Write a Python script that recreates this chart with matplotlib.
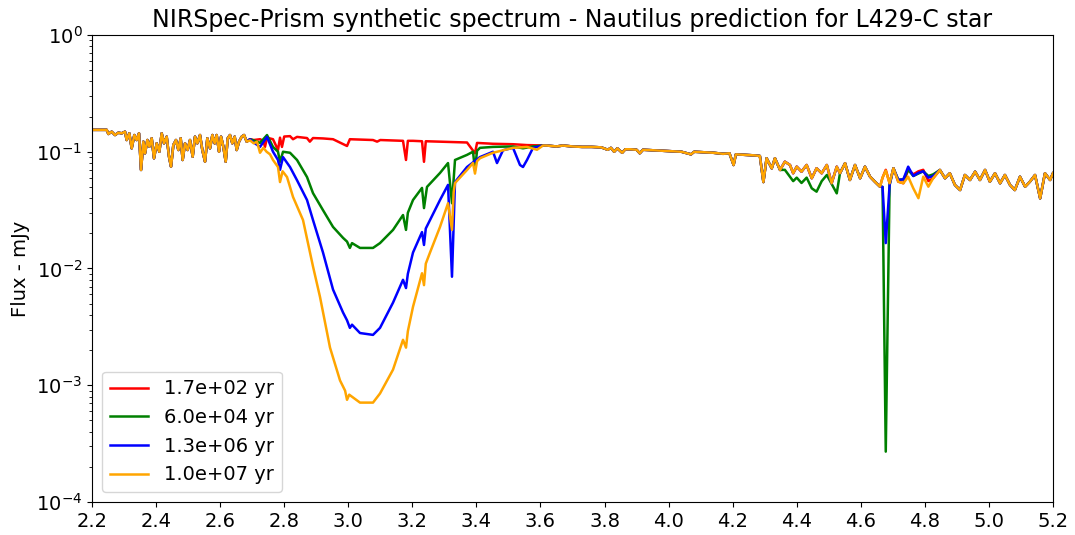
import numpy as np
import matplotlib
matplotlib.use("Agg")
import matplotlib.pyplot as plt

# wavelength (micron) / flux (mJy)

# 2.2 - 2.69 : identical for all four ages
wl_head = [2.200, 2.2458, 2.2510, 2.2614, 2.2718, 2.2822, 2.2926, 2.3030, 2.3082, 2.3165,
           2.3238, 2.3321, 2.3394, 2.3467, 2.3530, 2.3603, 2.3655, 2.3727, 2.3790, 2.3863,
           2.3935, 2.4019, 2.4102, 2.4175, 2.4248, 2.4331, 2.4404, 2.4466, 2.4539, 2.4622,
           2.4695, 2.4768, 2.4830, 2.4903, 2.4986, 2.5059, 2.5142, 2.5215, 2.5288, 2.5371,
           2.5444, 2.5528, 2.5600, 2.5684, 2.5757, 2.5830, 2.5892, 2.5965, 2.6028, 2.6100,
           2.6173, 2.6236, 2.6308, 2.6381, 2.6454, 2.6517, 2.6590, 2.6673, 2.6746, 2.6829]
flux_head = [0.154, 0.154, 0.142, 0.1485, 0.139, 0.1456, 0.1438, 0.1485, 0.126, 0.1438,
             0.107, 0.139, 0.126, 0.1438, 0.0698, 0.122, 0.097, 0.126, 0.1105, 0.1303,
             0.0879, 0.118, 0.100, 0.1438, 0.118, 0.1346, 0.0907, 0.0745, 0.1143, 0.126,
             0.1035, 0.1303, 0.085, 0.118, 0.1035, 0.126, 0.0907, 0.1346, 0.118, 0.139,
             0.1035, 0.0822, 0.1303, 0.107, 0.139, 0.118, 0.139, 0.100, 0.1346, 0.1105,
             0.0822, 0.1303, 0.139, 0.118, 0.1346, 0.1035, 0.122, 0.1346, 0.139, 0.122]

# 2.69 - 3.61 : ice band, one per age
wl_ice_1 = [2.6932, 2.7050, 2.7245, 2.7350, 2.7400, 2.7463, 2.7650, 2.7806, 2.7869, 2.7930,
            2.8000, 2.8181, 2.8275, 2.8400, 2.8712, 2.8800, 2.8900, 2.9211, 2.9524, 2.9961,
            3.0050, 3.0366, 3.0772, 3.0900, 3.1000, 3.1397, 3.1709, 3.1802, 3.1860, 3.2021,
            3.2302, 3.2364, 3.2420, 3.2864, 3.3238, 3.3707, 3.3956, 3.4020, 3.4518, 3.5143,
            3.5580, 3.6079]
flux_ice_1 = [0.128, 0.126, 0.128, 0.124, 0.110, 0.132, 0.128, 0.1035, 0.132, 0.110,
              0.135, 0.136, 0.128, 0.134, 0.131, 0.122, 0.131, 0.130, 0.128, 0.112,
              0.128, 0.127, 0.126, 0.122, 0.126, 0.125, 0.124, 0.085, 0.124, 0.124,
              0.123, 0.082, 0.123, 0.122, 0.121, 0.120, 0.097, 0.119, 0.117, 0.116,
              0.114, 0.113]

wl_ice_2 = [2.6932, 2.7050, 2.7245, 2.7463, 2.7650, 2.7806, 2.7869, 2.7963, 2.8181, 2.8400,
            2.8712, 2.8899, 2.9211, 2.9524, 2.9836, 2.9961, 3.0050, 3.0117, 3.0366, 3.0772,
            3.0991, 3.1397, 3.1709, 3.1802, 3.1860, 3.2021, 3.2302, 3.2364, 3.2458, 3.2864,
            3.3114, 3.3238, 3.3332, 3.3707, 3.3894, 3.3956, 3.4020, 3.4112, 3.4518, 3.5143,
            3.5455, 3.5767, 3.6079]
flux_ice_2 = [0.128, 0.125, 0.119, 0.139, 0.110, 0.100, 0.082, 0.100, 0.098, 0.085,
              0.0607, 0.0442, 0.0316, 0.0227, 0.0183, 0.0170, 0.0150, 0.0165, 0.0150, 0.0150,
              0.0165, 0.0214, 0.0287, 0.0214, 0.0300, 0.0386, 0.049, 0.0329, 0.050, 0.0658,
              0.080, 0.0362, 0.085, 0.094, 0.100, 0.0698, 0.102, 0.108, 0.110, 0.111,
              0.107, 0.111, 0.113]

wl_ice_3 = [2.6932, 2.7050, 2.7245, 2.7463, 2.7650, 2.7806, 2.7869, 2.7963, 2.8181, 2.8400,
            2.8712, 2.8899, 2.9211, 2.9524, 2.9836, 2.9961, 3.0050, 3.0117, 3.0366, 3.0772,
            3.0991, 3.1397, 3.1709, 3.1802, 3.1860, 3.2021, 3.2302, 3.2364, 3.2420, 3.2552,
            3.2864, 3.3114, 3.3238, 3.3332, 3.3707, 3.4112, 3.4518, 3.4643, 3.4831, 3.5143,
            3.5361, 3.5455, 3.5580, 3.5767, 3.6079]
flux_ice_3 = [0.128, 0.120, 0.110, 0.134, 0.100, 0.085, 0.070, 0.090, 0.074, 0.057,
              0.0386, 0.026, 0.0137, 0.0066, 0.0042, 0.0036, 0.0031, 0.0033, 0.0028, 0.0027,
              0.0031, 0.0051, 0.0080, 0.0068, 0.0090, 0.0137, 0.0205, 0.0159, 0.0220, 0.026,
              0.0386, 0.052, 0.0085, 0.055, 0.074, 0.090, 0.100, 0.080, 0.103, 0.108,
              0.077, 0.074, 0.085, 0.108, 0.113]

wl_ice_4 = [2.6932, 2.7050, 2.7150, 2.7245, 2.7350, 2.7450, 2.7557, 2.7650, 2.7806, 2.7869,
            2.7950, 2.8088, 2.8275, 2.8587, 2.8899, 2.9118, 2.9430, 2.9742, 2.9900, 2.9961,
            3.0030, 3.0366, 3.0772, 3.0991, 3.1397, 3.1709, 3.1802, 3.1860, 3.2021, 3.2302,
            3.2364, 3.2420, 3.2552, 3.2864, 3.3114, 3.3238, 3.3290, 3.3332, 3.3707, 3.3894,
            3.3956, 3.4020, 3.4112, 3.4518, 3.5143, 3.5580, 3.5892, 3.6079]
flux_ice_4 = [0.125, 0.118, 0.122, 0.098, 0.108, 0.100, 0.095, 0.085, 0.074, 0.055,
              0.068, 0.0607, 0.0410, 0.0260, 0.0104, 0.0057, 0.0021, 0.00110, 0.00090, 0.00075,
              0.00083, 0.00071, 0.00071, 0.00085, 0.00136, 0.00245, 0.0021, 0.0029, 0.0047, 0.0091,
              0.0072, 0.0110, 0.0137, 0.0227, 0.0362, 0.0214, 0.0450, 0.054, 0.0698, 0.080,
              0.065, 0.083, 0.088, 0.098, 0.108, 0.110, 0.104, 0.113]

# 3.62 - 4.34 : identical again
wl_mid = [3.62, 3.65, 3.67, 3.70, 3.73, 3.76, 3.79, 3.81, 3.82, 3.83,
          3.84, 3.855, 3.865, 3.88, 3.90, 3.91, 3.92, 3.95, 3.98, 4.01,
          4.04, 4.07, 4.08, 4.11, 4.14, 4.17, 4.19, 4.203, 4.21, 4.24,
          4.27, 4.285, 4.296, 4.306, 4.322, 4.332]
flux_mid = [0.113, 0.111, 0.113, 0.111, 0.110, 0.110, 0.109, 0.104, 0.108, 0.100,
            0.107, 0.098, 0.105, 0.105, 0.104, 0.097, 0.104, 0.103, 0.102, 0.101,
            0.100, 0.095, 0.100, 0.099, 0.098, 0.096, 0.097, 0.077, 0.095, 0.094,
            0.093, 0.092, 0.055, 0.088, 0.072, 0.088]

# 4.35 - 4.85 : CO band region
wl_co = [4.348, 4.363, 4.379, 4.389, 4.400, 4.415, 4.431, 4.447, 4.462, 4.478,
         4.494, 4.509, 4.525, 4.535, 4.551, 4.566, 4.582, 4.598, 4.613, 4.629,
         4.644, 4.660, 4.668, 4.678, 4.690, 4.702, 4.717, 4.733, 4.748, 4.764,
         4.780, 4.795, 4.811, 4.826, 4.847]
flux_co_1 = [0.0698, 0.0822, 0.0770, 0.0654, 0.0745, 0.0675, 0.0770, 0.0593, 0.0722, 0.0654,
             0.0770, 0.0537, 0.0745, 0.0654, 0.0798, 0.0573, 0.0770, 0.0593, 0.0745, 0.0611,
             0.0554, 0.0502, 0.0600, 0.0700, 0.0537, 0.0722, 0.0554, 0.0537, 0.0700, 0.0640,
             0.0680, 0.0700, 0.0560, 0.0593, 0.0698]
flux_co_2 = [0.0698, 0.0700, 0.0611, 0.0560, 0.0600, 0.0540, 0.0600, 0.0486, 0.0455, 0.0560,
             0.0632, 0.0530, 0.0440, 0.0654, 0.0798, 0.0573, 0.0770, 0.0593, 0.0745, 0.0611,
             0.0554, 0.0502, 0.0500, 0.00027, 0.0520, 0.0722, 0.0575, 0.0580, 0.0700, 0.0620,
             0.0650, 0.0680, 0.0620, 0.0640, 0.0698]
flux_co_3 = [0.0698, 0.0822, 0.0770, 0.0654, 0.0745, 0.0675, 0.0770, 0.0593, 0.0722, 0.0654,
             0.0770, 0.0537, 0.0745, 0.0654, 0.0798, 0.0573, 0.0770, 0.0593, 0.0745, 0.0611,
             0.0554, 0.0502, 0.0500, 0.0165, 0.0520, 0.0722, 0.0575, 0.0580, 0.0745, 0.0620,
             0.0660, 0.0680, 0.0600, 0.0620, 0.0698]
flux_co_4 = [0.0698, 0.0822, 0.0770, 0.0654, 0.0745, 0.0675, 0.0770, 0.0593, 0.0722, 0.0654,
             0.0770, 0.0537, 0.0745, 0.0654, 0.0798, 0.0573, 0.0770, 0.0593, 0.0745, 0.0611,
             0.0554, 0.0502, 0.0600, 0.0690, 0.0537, 0.0722, 0.0554, 0.0537, 0.0611, 0.0486,
             0.0400, 0.0611, 0.0502, 0.0593, 0.0698]

# 4.86 - 5.2 : identical
wl_tail = [4.863, 4.878, 4.894, 4.910, 4.925, 4.941, 4.957, 4.972, 4.988, 5.003,
           5.019, 5.035, 5.050, 5.066, 5.081, 5.097, 5.113, 5.128, 5.144, 5.160,
           5.175, 5.191, 5.200]
flux_tail = [0.0593, 0.0654, 0.0519, 0.0470, 0.0632, 0.0573, 0.0675, 0.0573, 0.0698, 0.0554,
             0.0654, 0.0537, 0.0632, 0.0519, 0.0470, 0.0611, 0.0502, 0.0554, 0.0632, 0.0399,
             0.0654, 0.0573, 0.0654]

ages = ["1.7e+02 yr", "6.0e+04 yr", "1.3e+06 yr", "1.0e+07 yr"]
colors = ["red", "green", "blue", "orange"]
wl_ice = [wl_ice_1, wl_ice_2, wl_ice_3, wl_ice_4]
flux_ice = [flux_ice_1, flux_ice_2, flux_ice_3, flux_ice_4]
flux_co = [flux_co_1, flux_co_2, flux_co_3, flux_co_4]

fig = plt.figure(figsize=(10.75, 5.35), dpi=100)
ax = fig.add_axes([0.0856, 0.0617, 0.8939, 0.8729])

for i in range(0, 4):
    wl = wl_head + wl_ice[i] + wl_mid + wl_co + wl_tail
    flux = flux_head + flux_ice[i] + flux_mid + flux_co[i] + flux_tail
    ax.plot(np.array(wl), np.array(flux), color=colors[i], lw=1.8, label=ages[i])

ax.set_yscale("log")
ax.set_xlim(2.2, 5.2)
ax.set_ylim(1e-4, 1)
ax.set_xticks(np.round(np.arange(2.2, 5.21, 0.2), 1))
ax.tick_params(labelsize=14)
ax.set_ylabel("Flux - mJy", fontsize=14)
ax.set_title("NIRSpec-Prism synthetic spectrum - Nautilus prediction for L429-C star", fontsize=17)
ax.legend(loc="lower left", fontsize=14)

fig.savefig("out.png", dpi=100)
